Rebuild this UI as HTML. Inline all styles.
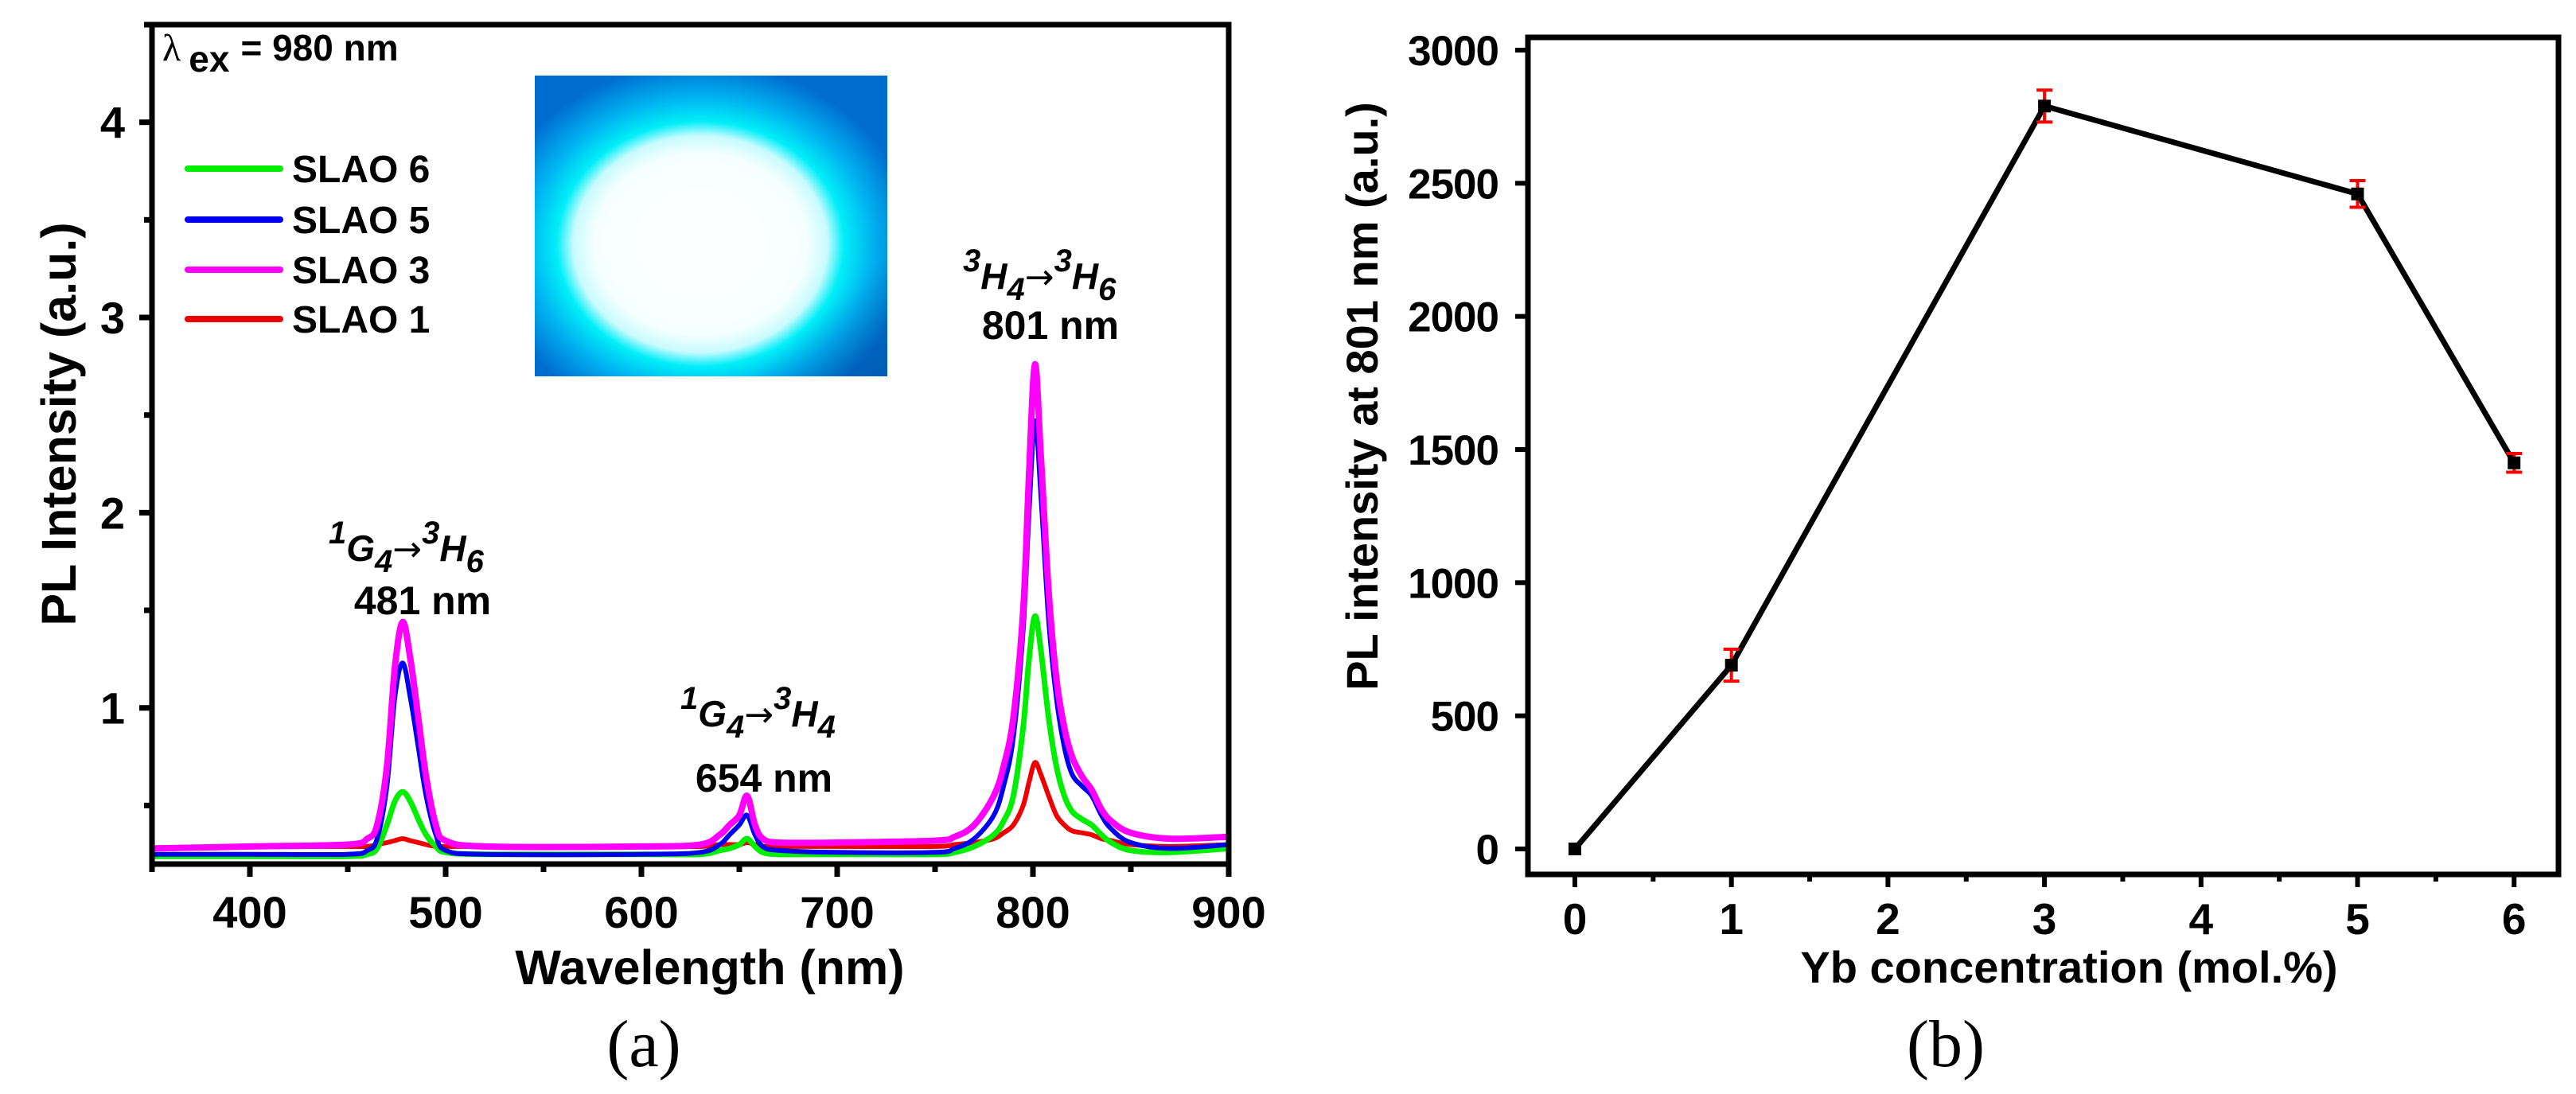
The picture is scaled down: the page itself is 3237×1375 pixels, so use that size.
<!DOCTYPE html>
<html><head><meta charset="utf-8"><style>
html,body{margin:0;padding:0;background:#fff;}
svg{display:block;}
</style></head><body>
<svg id="fig" width="3237" height="1375" viewBox="0 0 3237 1375" xmlns="http://www.w3.org/2000/svg" font-family="Liberation Sans, Arial, sans-serif">
<defs>
<radialGradient id="blob" cx="0.47" cy="0.56" r="0.6">
<stop offset="0" stop-color="#ffffff"/>
<stop offset="0.5" stop-color="#f6ffff"/>
<stop offset="0.6" stop-color="#c8fbff"/>
<stop offset="0.68" stop-color="#00eef8"/>
<stop offset="0.82" stop-color="#00b0f0"/>
<stop offset="1" stop-color="#006ed0"/>
</radialGradient>
<linearGradient id="photoShade" x1="0" y1="0" x2="1" y2="1">
<stop offset="0" stop-color="#0050a0" stop-opacity="0"/>
<stop offset="0.8" stop-color="#003d88" stop-opacity="0"/>
<stop offset="1" stop-color="#003d88" stop-opacity="0.35"/>
</linearGradient>
<clipPath id="clipA"><rect x="191" y="31" width="1353" height="1055"/></clipPath>
</defs>
<g id="panelA"></g>
<g id="panelB"></g>
</svg>
<script>
// ---------- Panel (a) data ----------
const wavelengths = [350,400,450,460,465,470,474,478,482,486,490,495,500,520,600,630,640,645,650,654,658,662,670,700,750,760,770,780,785,790,795,798,801,804,808,812,816,820,825,830,835,840,850,870,900];
const slao6 = [0.24,0.24,0.24,0.25,0.28,0.40,0.52,0.57,0.52,0.43,0.35,0.29,0.26,0.25,0.25,0.25,0.27,0.28,0.30,0.33,0.29,0.26,0.25,0.25,0.25,0.26,0.29,0.35,0.42,0.55,0.90,1.25,1.47,1.30,0.95,0.70,0.55,0.47,0.43,0.40,0.35,0.31,0.27,0.26,0.28];
const slao5 = [0.25,0.25,0.25,0.27,0.33,0.60,1.05,1.23,1.05,0.80,0.55,0.35,0.27,0.25,0.25,0.26,0.30,0.35,0.40,0.45,0.35,0.29,0.27,0.26,0.26,0.28,0.33,0.45,0.60,0.85,1.40,2.00,2.47,2.10,1.45,1.05,0.80,0.66,0.60,0.55,0.45,0.38,0.31,0.28,0.30];
const slao3 = [0.28,0.29,0.30,0.33,0.40,0.70,1.20,1.44,1.25,0.95,0.65,0.40,0.32,0.29,0.29,0.30,0.35,0.40,0.45,0.55,0.40,0.33,0.31,0.31,0.32,0.34,0.40,0.55,0.70,0.95,1.50,2.20,2.76,2.30,1.60,1.15,0.90,0.75,0.65,0.58,0.48,0.42,0.36,0.33,0.34];
const slao1 = [0.28,0.29,0.29,0.29,0.30,0.31,0.32,0.33,0.32,0.31,0.30,0.29,0.29,0.29,0.29,0.29,0.30,0.30,0.30,0.31,0.30,0.29,0.29,0.29,0.29,0.30,0.31,0.33,0.36,0.40,0.50,0.62,0.72,0.66,0.55,0.45,0.40,0.37,0.36,0.35,0.33,0.32,0.30,0.29,0.30];
const seriesNames = ["SLAO 6","SLAO 5","SLAO 3","SLAO 1"];
const xTicksA = [400,500,600,700,800,900];
const yTicksA = [1,2,3,4];

// ---------- Panel (b) data ----------
const ybConc = [0,1,3,5,6];
const plIntensity = [0,690,2790,2460,1450];
const plError = [0,60,60,50,35];
const xTicksB = [0,1,2,3,4,5,6];
const yTicksB = [0,500,1000,1500,2000,2500,3000];

const NS = "http://www.w3.org/2000/svg";
function mk(parent, tag, attrs, txt){
  const e = document.createElementNS(NS, tag);
  for (const k in attrs) e.setAttribute(k, attrs[k]);
  if (txt !== undefined) e.textContent = txt;
  parent.appendChild(e);
  return e;
}
function smoothPath(px, py){
  let d = 'M'+px[0].toFixed(1)+','+py[0].toFixed(1);
  for (let i=0;i<px.length-1;i++){
    const x0=px[Math.max(i-1,0)], y0=py[Math.max(i-1,0)];
    const x1=px[i], y1=py[i], x2=px[i+1], y2=py[i+1];
    const x3=px[Math.min(i+2,px.length-1)], y3=py[Math.min(i+2,px.length-1)];
    const c1x=x1+(x2-x0)/6, c1y=y1+(y2-y0)/6, c2x=x2-(x3-x1)/6, c2y=y2-(y3-y1)/6;
    d+=' C'+c1x.toFixed(1)+','+c1y.toFixed(1)+' '+c2x.toFixed(1)+','+c2y.toFixed(1)+' '+x2.toFixed(1)+','+y2.toFixed(1);
  }
  return d;
}

// ===== Panel A =====
const A = document.getElementById('panelA');
const aL=191, aR=1544, aT=31, aB=1086;
const xA = v => aL + (v-350)/(900-350)*(aR-aL);
const yA = v => aB - (v-0.2)/(4.5-0.2)*(aB-aT);

const ph = mk(A,'g',{});


mk(ph,'rect',{x:672,y:95,width:443,height:378,fill:'url(#blob)'});
mk(ph,'rect',{x:672,y:95,width:443,height:378,fill:'url(#photoShade)'});

for (let v=350; v<=900; v+=50){
  const major = v%100===0;
  const t = mk(A,'line',{x1:xA(v),x2:xA(v),y1:aB,y2:aB+(major?16:10),stroke:'#000','stroke-width':7});
  
  
}
xTicksA.forEach(v=>{
  const t = mk(A,'text',{x:xA(v),y:1166,'text-anchor':'middle','font-size':56,'font-weight':'bold'},String(v));
  
  
});
for (let v=0.5; v<=4.5; v+=0.5){
  const major = Math.abs(v-Math.round(v))<1e-6;
  const t = mk(A,'line',{x1:aL,x2:aL-(major?16:10),y1:yA(v),y2:yA(v),stroke:'#000','stroke-width':7});
  
  
}
yTicksA.forEach(v=>{
  const t = mk(A,'text',{x:157,y:yA(v)+20,'text-anchor':'end','font-size':56,'font-weight':'bold'},String(v));
  
  
});

const specData = [slao6, slao5, slao3, slao1];
const colors = ['#00ee00','#0000ee','#ff00ff','#ee0000'];
const widths = [7,6,8,6];
const drawOrder = [3,0,1,2];
const specG = mk(A,'g',{'clip-path':'url(#clipA)'});
drawOrder.forEach(i=>{
  const px = wavelengths.map(w=>xA(w));
  const py = specData[i].map(v=>yA(v));
  const p = mk(specG,'path',{d:smoothPath(px,py),fill:'none',stroke:colors[i],'stroke-width':widths[i],'stroke-linejoin':'round','stroke-linecap':'round'});
  
  
});

const fA = mk(A,'rect',{x:aL,y:aT,width:aR-aL,height:aB-aT,fill:'none',stroke:'#000','stroke-width':7});



const leg = mk(A,'g',{});


const legY = [212,276,339,401];
seriesNames.forEach((n,i)=>{
  const e = mk(leg,'g',{});
  
  
  mk(e,'line',{x1:236,x2:352,y1:legY[i],y2:legY[i],stroke:colors[i],'stroke-width':8,'stroke-linecap':'round'});
  mk(e,'text',{x:367,y:legY[i]+17,'font-size':48,'font-weight':'bold'},n);
});

const lam = mk(A,'text',{x:204,y:76,'font-size':46,'font-weight':'bold'});


lam.innerHTML = '<tspan style="font-family:\'Liberation Serif\',serif;font-weight:normal" font-size="48">λ</tspan><tspan dx="10" dy="14">ex</tspan><tspan dx="14" dy="-14">= 980 nm</tspan>';

function trans(x, yb, a, b, c, d, id){
  const t = mk(A,'text',{x:x,y:yb,'font-size':46,'font-weight':'bold','font-style':'italic'});
  
  
  t.innerHTML = '<tspan dy="-22" font-size="40">'+a+'</tspan><tspan dy="22">'+b+'</tspan><tspan dy="14" font-size="40">4</tspan><tspan dy="-14" style="font-family:\'DejaVu Sans\',sans-serif;font-style:normal;font-weight:normal" font-size="44">→</tspan><tspan dy="-22" font-size="40">'+c+'</tspan><tspan dy="22">H</tspan><tspan dy="14" font-size="40">'+d+'</tspan>';
}
trans(413,705,'1','G','3','6','transition-label-481');
trans(855,913,'1','G','3','4','transition-label-654');
trans(1210,363,'3','H','3','6','transition-label-801');
[[531,772,'481 nm'],[960,995,'654 nm'],[1320,426,'801 nm']].forEach(d=>{
  const t = mk(A,'text',{x:d[0],y:d[1],'text-anchor':'middle','font-size':50,'font-weight':'bold'},d[2]);
  
  
});

const xtA = mk(A,'text',{x:892,y:1237,'text-anchor':'middle','font-size':61,'font-weight':'bold'},'Wavelength (nm)');


const ytA = mk(A,'text',{x:0,y:0,'text-anchor':'middle','font-size':61,'font-weight':'bold',transform:'translate(95,533) rotate(-90)'},'PL Intensity (a.u.)');


const capA = mk(A,'text',{x:809,y:1340,'text-anchor':'middle','font-size':84,style:"font-family:'Liberation Serif',serif"},'(a)');



// ===== Panel B =====
const B = document.getElementById('panelB');
const bL=1920, bR=3215, bT=47, bB=1099;
const xB = v => 1979 + v*196.7;
const yB = v => 1067 - v*(1067-63)/3000;

for (let v=0; v<=6; v+=0.5){
  const major = Math.abs(v-Math.round(v))<1e-6;
  const t = mk(B,'line',{x1:xB(v),x2:xB(v),y1:bB,y2:bB+(major?16:9),stroke:'#000','stroke-width':6});
  
  
}
xTicksB.forEach(v=>{
  const t = mk(B,'text',{x:xB(v),y:1174,'text-anchor':'middle','font-size':55,'font-weight':'bold'},String(v));
  
  
});
yTicksB.forEach(v=>{
  const t = mk(B,'line',{x1:bL,x2:bL-16,y1:yB(v),y2:yB(v),stroke:'#000','stroke-width':6});
  
  
  const l = mk(B,'text',{x:1883,y:yB(v)+19,'text-anchor':'end','font-size':53,'font-weight':'bold','letter-spacing':'-1'},String(v));
  
  
});

const lineB = mk(B,'polyline',{points:ybConc.map((c,i)=>xB(c)+','+yB(plIntensity[i])).join(' '),fill:'none',stroke:'#000','stroke-width':7,'stroke-linejoin':'round'});


ybConc.forEach((c,i)=>{
  const x=xB(c), y=yB(plIntensity[i]);
  if (plError[i]>0){
    const eb = mk(B,'path',{d:`M${x},${yB(plIntensity[i]+plError[i])}V${yB(plIntensity[i]-plError[i])}M${x-10},${yB(plIntensity[i]+plError[i])}H${x+10}M${x-10},${yB(plIntensity[i]-plError[i])}H${x+10}`,stroke:'#ff0000','stroke-width':4,fill:'none'});
    
    
  }
  const m = mk(B,'rect',{x:x-8,y:y-8,width:16,height:16,fill:'#000'});
  
  
});

const fB = mk(B,'rect',{x:bL,y:bT,width:bR-bL,height:bB-bT,fill:'none',stroke:'#000','stroke-width':7});



const xtB = mk(B,'text',{x:2600,y:1235,'text-anchor':'middle','font-size':56,'font-weight':'bold'},'Yb concentration (mol.%)');


const ytB = mk(B,'text',{x:0,y:0,'text-anchor':'middle','font-size':56,'font-weight':'bold',transform:'translate(1731,498) rotate(-90)'},'PL intensity at 801 nm (a.u.)');


const capB = mk(B,'text',{x:2445,y:1340,'text-anchor':'middle','font-size':84,style:"font-family:'Liberation Serif',serif"},'(b)');


</script>
</body></html>
